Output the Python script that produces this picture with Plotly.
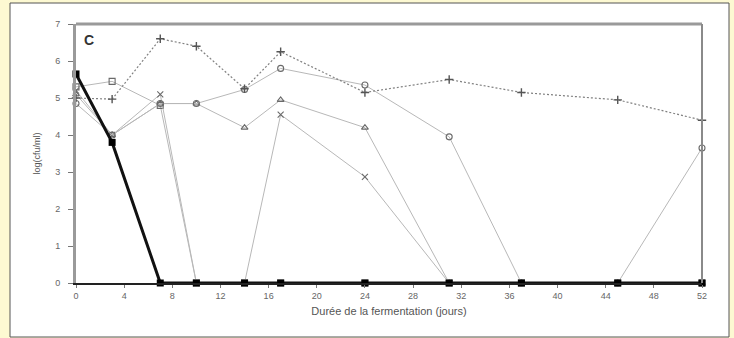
import plotly.graph_objects as go

# Fermentation days sampled
days = [0, 3, 7, 10, 14, 17, 24, 31, 37, 45, 52]

# log(cfu/ml) counts for each strain / condition
serie_plus = [5.0, 4.97, 6.6, 6.4, 5.25, 6.25, 5.15, 5.5, 5.15, 4.95, 4.4]
serie_carre = [5.3, 5.45, 4.8, 0, 0, 0, 0, 0, 0, 0, 0]
serie_croix = [5.2, 4.0, 5.1, 0, 0, 4.55, 2.87, 0, 0, 0, 0]
serie_triangle = [5.1, 4.0, 4.85, 4.85, 4.2, 4.95, 4.2, 0, 0, 0, 0]
serie_rond = [4.85, 4.0, 4.85, 4.85, 5.23, 5.8, 5.35, 3.95, 0, 0, 3.65]
serie_noir = [5.65, 3.8, 0, 0, 0, 0, 0, 0, 0, 0, 0]

x_ticks = list(range(0, 53, 4))
y_ticks = list(range(0, 8))

# plot area in pixels
W, H = 734, 338
L, R, T, B = 76, 702, 24, 283


def px(xp):
    return (xp - L) / (R - L)


def py(yp):
    return (B - yp) / (B - T)


fig = go.Figure()

light = "#b8b8b8"
mark = "#6a6a6a"

open_series = [
    (serie_carre, "square-open"),
    (serie_croix, "x-thin-open"),
    (serie_triangle, "triangle-up-open"),
    (serie_rond, "circle-open"),
]
for ys, sym in open_series:
    fig.add_trace(go.Scatter(
        x=days, y=ys, mode="lines+markers",
        line=dict(color=light, width=1),
        marker=dict(symbol=sym, size=6, color=mark, line=dict(color=mark, width=1.1)),
        cliponaxis=False, showlegend=False,
    ))

fig.add_trace(go.Scatter(
    x=days, y=serie_plus, mode="lines+markers",
    line=dict(color="#808080", width=1.2, dash="2px,2px"),
    marker=dict(symbol="cross-thin-open", size=6, color="#555", line=dict(color="#555", width=1.4)),
    cliponaxis=False, showlegend=False,
))

fig.add_trace(go.Scatter(
    x=days, y=serie_noir, mode="lines+markers",
    line=dict(color="#111111", width=3),
    marker=dict(symbol="square", size=7, color="#000000"),
    cliponaxis=False, showlegend=False,
))

shapes = [
    # white panel on the yellow page
    dict(type="rect", xref="paper", yref="paper",
         x0=px(10), x1=px(729), y0=py(337), y1=py(3),
         fillcolor="white", line=dict(color="#555", width=1), layer="below"),
    # top and right frame of the plot area
    dict(type="line", xref="paper", yref="paper", x0=0, x1=1, y0=1, y1=1,
         line=dict(color="#9a9a9a", width=3)),
    dict(type="line", xref="paper", yref="paper", x0=1, x1=1, y0=0, y1=1,
         line=dict(color="#8a8a8a", width=2)),
]

annotations = [
    dict(text="<b>C</b>", x=px(82), y=py(40), xref="paper", yref="paper",
         xanchor="left", yanchor="middle", showarrow=False,
         font=dict(size=14, color="#333", family="Liberation Sans")),
]

fig.update_layout(
    width=W, height=H,
    margin=dict(l=L, r=W - R, t=T, b=H - B),
    paper_bgcolor="#fdf9d2",
    plot_bgcolor="white",
    shapes=shapes,
    annotations=annotations,
    font=dict(family="Liberation Sans", color="#555"),
    xaxis=dict(
        range=[0, 52], tickvals=x_ticks, ticks="outside", ticklen=3,
        tickcolor="#777", showgrid=False, zeroline=False,
        showline=True, linecolor="#222", linewidth=2,
        tickfont=dict(size=9, color="#666"),
        title=dict(text="Durée de la fermentation (jours)",
                   font=dict(size=11, color="#555"), standoff=8),
    ),
    yaxis=dict(
        range=[0, 7], tickvals=y_ticks, ticks="outside", ticklen=5,
        tickcolor="#777", showgrid=False, zeroline=False,
        showline=True, linecolor="#9a9a9a", linewidth=3,
        ticklabelstandoff=6,
        tickfont=dict(size=9, color="#666"),
        title=dict(text="log(cfu/ml)", font=dict(size=9, color="#555"), standoff=14),
    ),
)

fig.write_html("out.html")
